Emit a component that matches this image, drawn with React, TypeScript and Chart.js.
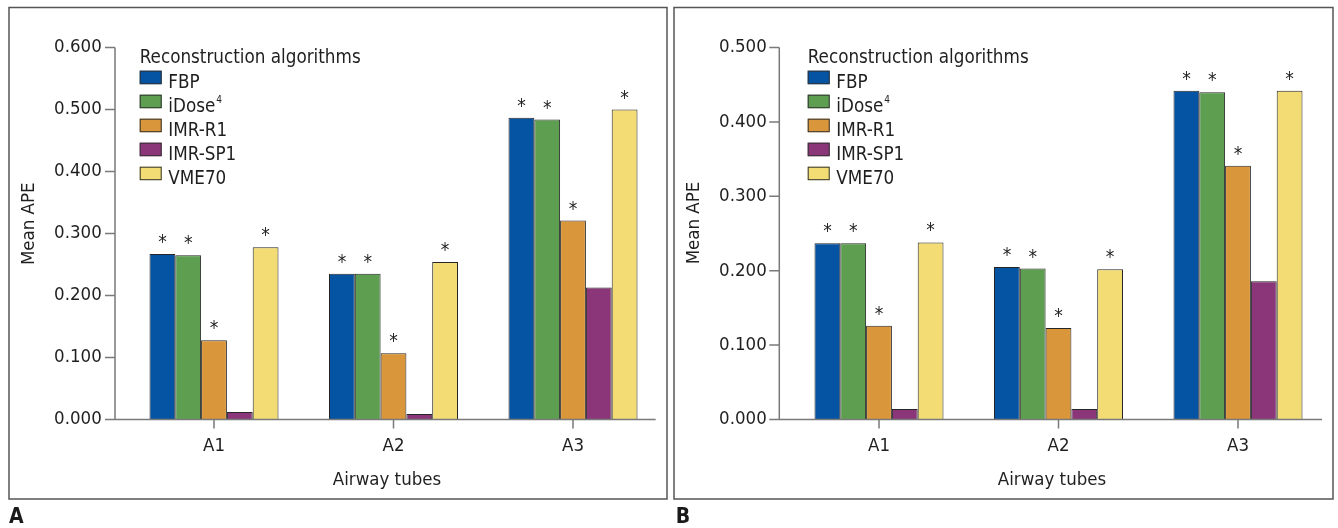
import React, { useEffect, useRef } from 'react';
import { Chart, registerables } from 'chart.js';

Chart.register(...registerables);

// ---------- data ----------
const categories = ['A1', 'A2', 'A3'];
const seriesNames = ['FBP', 'iDose⁴', 'IMR-R1', 'IMR-SP1', 'VME70'];
const seriesStars = [true, true, true, false, true];
const legendTitle = 'Reconstruction algorithms';
const yTitle = 'Mean APE';
const xTitle = 'Airway tubes';

// Panel A
const aFBP = [0.267, 0.235, 0.487];
const aIDose = [0.265, 0.235, 0.484];
const aIMRR1 = [0.128, 0.107, 0.321];
const aIMRSP1 = [0.012, 0.009, 0.213];
const aVME70 = [0.278, 0.254, 0.5];
const aYMax = 0.6;

// Panel B
const bFBP = [0.237, 0.205, 0.442];
const bIDose = [0.237, 0.203, 0.44];
const bIMRR1 = [0.126, 0.123, 0.341];
const bIMRSP1 = [0.014, 0.014, 0.186];
const bVME70 = [0.238, 0.202, 0.442];
const bYMax = 0.5;

// ---------- styles ----------
const seriesColors = ['#0553a3', '#5d9e51', '#d9963a', '#8a3679', '#f2dc73'];
const FONT = "'DejaVu Sans Condensed', 'DejaVu Sans', sans-serif";
const TEXT = '#1f1f1f';
const AXIS = '#7a7a7a';
const W = 669;
const H = 528;

type PanelCfg = {
  letter: string;
  values: number[][];
  yMax: number;
  offsetX: number;
  frame: [number, number, number, number];
  axisX: number;
  plotLeft: number;
  plotRight: number;
  plotTop: number;
  plotBottom: number;
  axisEnd: number;
  yTitleX: number;
  yTitleY: number;
  xTitleX: number;
  xTitleY: number;
  legendX: number;
  letterX: number;
};

const panelA: PanelCfg = {
  letter: 'A',
  values: [aFBP, aIDose, aIMRR1, aIMRSP1, aVME70],
  yMax: aYMax,
  offsetX: 0,
  frame: [9, 7.5, 667, 499],
  axisX: 115,
  plotLeft: 124.25,
  plotRight: 662.75,
  plotTop: 47.6,
  plotBottom: 419.5,
  axisEnd: 655.7,
  yTitleX: 29,
  yTitleY: 223.8,
  xTitleX: 387,
  xTitleY: 485,
  legendX: 139.7,
  letterX: 9,
};

const panelB: PanelCfg = {
  letter: 'B',
  values: [bFBP, bIDose, bIMRR1, bIMRSP1, bVME70],
  yMax: bYMax,
  offsetX: 669,
  frame: [5, 7.5, 664, 499],
  axisX: 110.3,
  plotLeft: 120.25,
  plotRight: 658.75,
  plotTop: 47.6,
  plotBottom: 419.5,
  axisEnd: 653,
  yTitleX: 24.7,
  yTitleY: 223,
  xTitleX: 383,
  xTitleY: 485,
  legendX: 138.7,
  letterX: 6.7,
};

const SUP: Record<string, string> = {
  '⁰': '0', '¹': '1', '²': '2', '³': '3', '⁴': '4', '⁵': '5', '⁶': '6', '⁷': '7', '⁸': '8', '⁹': '9',
};

function makeDecor(cfg: PanelCfg) {
  return {
    id: 'decor' + cfg.letter,
    afterDraw(chart: any) {
      const ctx: CanvasRenderingContext2D = chart.ctx;
      const ys = chart.scales.y;
      const xs = chart.scales.x;
      ctx.save();

      // frame
      const [fx0, fy0, fx1, fy1] = cfg.frame;
      ctx.strokeStyle = '#555';
      ctx.lineWidth = 1.5;
      ctx.strokeRect(fx0, fy0, fx1 - fx0, fy1 - fy0);

      // axes
      const base = ys.getPixelForValue(0);
      const top = ys.getPixelForValue(cfg.yMax);
      ctx.strokeStyle = AXIS;
      ctx.lineWidth = 1.5;
      ctx.beginPath();
      ctx.moveTo(cfg.axisX, top);
      ctx.lineTo(cfg.axisX, base);
      ctx.moveTo(cfg.axisX, base);
      ctx.lineTo(cfg.axisEnd, base);
      ys.ticks.forEach((t: any) => {
        const py = ys.getPixelForValue(t.value);
        ctx.moveTo(cfg.axisX - 10, py);
        ctx.lineTo(cfg.axisX, py);
      });
      categories.forEach((_, i) => {
        const px = xs.getPixelForValue(i);
        ctx.moveTo(px, base);
        ctx.lineTo(px, base + 9);
      });
      ctx.stroke();

      // asterisks
      ctx.fillStyle = TEXT;
      ctx.font = `19px ${FONT}`;
      ctx.textAlign = 'center';
      ctx.textBaseline = 'alphabetic';
      chart.data.datasets.forEach((_: any, di: number) => {
        if (!seriesStars[di]) return;
        chart.getDatasetMeta(di).data.forEach((bar: any) => {
          ctx.fillText('*', bar.x, bar.y - 6);
        });
      });

      // axis titles
      ctx.font = `18.5px ${FONT}`;
      ctx.textAlign = 'center';
      ctx.textBaseline = 'alphabetic';
      ctx.fillText(xTitle, cfg.xTitleX, cfg.xTitleY);
      ctx.save();
      ctx.translate(cfg.yTitleX, cfg.yTitleY);
      ctx.rotate(-Math.PI / 2);
      ctx.textBaseline = 'middle';
      ctx.fillText(yTitle, 0, 0);
      ctx.restore();

      // legend
      ctx.textAlign = 'left';
      ctx.textBaseline = 'alphabetic';
      ctx.font = `18.7px ${FONT}`;
      ctx.fillStyle = TEXT;
      ctx.fillText(legendTitle, cfg.legendX, 63.3);
      seriesNames.forEach((name, i) => {
        const bt = 70.7 + i * 24;
        ctx.fillStyle = seriesColors[i];
        ctx.fillRect(cfg.legendX, bt, 22, 13.5);
        ctx.strokeStyle = '#333';
        ctx.lineWidth = 1;
        ctx.strokeRect(cfg.legendX + 0.5, bt + 0.5, 21, 12.5);
        ctx.fillStyle = TEXT;
        const tb = bt + 17.6;
        const tx = cfg.legendX + 28.6;
        ctx.font = `18.7px ${FONT}`;
        const m = name.match(/^(.*?)([⁰¹²³⁴⁵⁶⁷⁸⁹]+)$/);
        if (m) {
          ctx.fillText(m[1], tx, tb);
          const w = ctx.measureText(m[1]).width;
          ctx.font = `10px ${FONT}`;
          const sup = m[2].split('').map((c) => SUP[c] || c).join('');
          ctx.fillText(sup, tx + w + 1, tb - 9);
        } else {
          ctx.fillText(name, tx, tb);
        }
      });

      // panel letter
      ctx.font = `bold 21px ${FONT}`;
      ctx.fillStyle = '#1a1a1a';
      ctx.textAlign = 'left';
      ctx.fillText(cfg.letter, cfg.letterX, 523);

      ctx.restore();
    },
  };
}

function Panel({ cfg }: { cfg: PanelCfg }) {
  const ref = useRef<HTMLCanvasElement>(null);
  useEffect(() => {
    const canvas = ref.current!;
    const chart = new Chart(canvas, {
      type: 'bar',
      data: {
        labels: categories,
        datasets: seriesNames.map((name, i) => ({
          label: name,
          data: cfg.values[i],
          backgroundColor: seriesColors[i],
          borderColor: '#262626',
          borderWidth: 1,
          categoryPercentage: 0.7187,
          barPercentage: 1,
        })),
      },
      options: {
        responsive: false,
        animation: false,
        events: [],
        layout: {
          padding: { top: cfg.plotTop, right: W - cfg.plotRight, left: 0, bottom: 0 },
        },
        plugins: {
          legend: { display: false },
          tooltip: { enabled: false },
        },
        scales: {
          x: {
            type: 'category',
            offset: true,
            grid: { display: false, drawTicks: false },
            border: { display: false },
            ticks: { font: { family: FONT, size: 18.5 }, color: TEXT, padding: 15.2, maxRotation: 0 },
            afterFit: (scale: any) => {
              scale.height = H - cfg.plotBottom;
            },
          },
          y: {
            min: 0,
            max: cfg.yMax,
            grid: { display: false, drawTicks: false },
            border: { display: false },
            ticks: {
              stepSize: 0.1,
              font: { family: FONT, size: 18.5 },
              color: TEXT,
              padding: 22.5,
              callback: (v: any) => Number(v).toFixed(3),
            },
            afterFit: (scale: any) => {
              scale.width = cfg.plotLeft;
            },
          },
        },
      },
      plugins: [makeDecor(cfg)],
    } as any);
    return () => chart.destroy();
  }, [cfg]);
  return (
    <canvas
      ref={ref}
      width={W}
      height={H}
      style={{ position: 'absolute', left: cfg.offsetX, top: 0, width: W, height: H }}
    />
  );
}

export default function App() {
  return (
    <div style={{ position: 'relative', width: 1338, height: 528, background: '#fff', overflow: 'hidden' }}>
      <style>{'body{margin:0;background:#fff}'}</style>
      <Panel cfg={panelA} />
      <Panel cfg={panelB} />
    </div>
  );
}
